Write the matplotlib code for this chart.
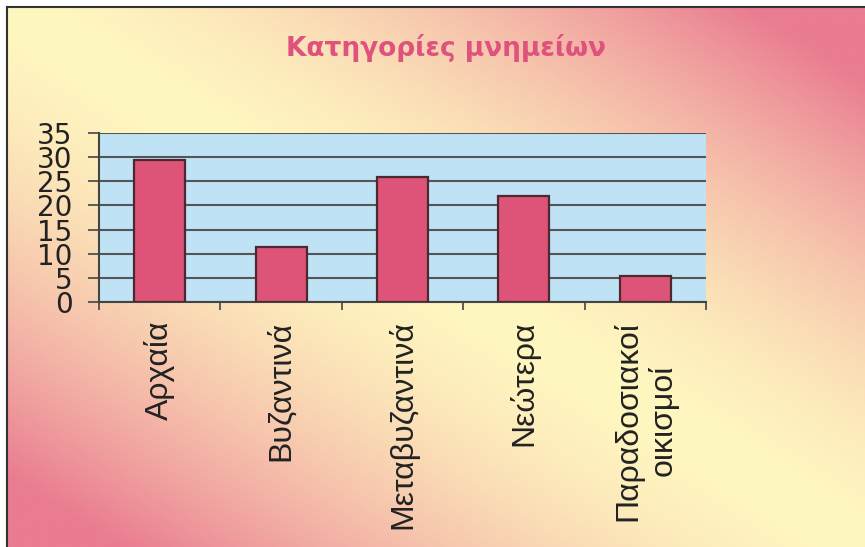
import matplotlib
matplotlib.use("Agg")
import matplotlib.pyplot as plt
import numpy as np

categories = ["Αρχαία", "Βυζαντινά", "Μεταβυζαντινά", "Νεώτερα", "Παραδοσιακοί\nοικισμοί"]
values = [29.4, 11.3, 25.8, 21.9, 5.4]
yticks = [0, 5, 10, 15, 20, 25, 30, 35]

W, H = 865, 547
fig = plt.figure(figsize=(W / 100, H / 100), dpi=100)
fig.patch.set_facecolor("white")

# gradient background (pink at top-right / bottom-left, yellow along the diagonal)
bg = fig.add_axes([8 / W, 0, 1 - 8 / W, 1 - 8 / H])
bg.set_axis_off()
xx, yy = np.meshgrid(np.linspace(0, 1, 400), np.linspace(0, 1, 300))
d = np.clip(np.abs(xx - yy) * 1.15, 0, 1) ** 1.6
yellow = np.array([255, 247, 192]) / 255
pink = np.array([234, 124, 145]) / 255
img = yellow[None, None, :] * (1 - d[..., None]) + pink[None, None, :] * d[..., None]
bg.imshow(img, aspect="auto", extent=[0, 1, 0, 1], origin="upper")
bg.set_xlim(0, 1)
bg.set_ylim(0, 1)
# dark frame lines at top and left
fig.add_artist(plt.Line2D([7 / W, 1], [1 - 7 / H, 1 - 7 / H], color="#333333", lw=1.5))
fig.add_artist(plt.Line2D([7 / W, 7 / W], [0, 1 - 7 / H], color="#333333", lw=1.5))

ax = fig.add_axes([99 / W, 1 - 302 / H, (706 - 99) / W, (302 - 133) / H])
ax.set_facecolor("#bfe3f5")
x = np.arange(len(categories))
ax.bar(x, values, width=0.42, color="#de5479", edgecolor="#4a2a30", linewidth=1.6, zorder=3)

ax.set_xlim(-0.5, len(categories) - 0.5)
ax.set_ylim(0, 35)
ax.set_yticks(yticks)
ax.set_yticklabels([str(v) for v in yticks], fontsize=20, family="DejaVu Sans", color="#222222")
ax.yaxis.grid(True, color="#555555", linewidth=1.5, zorder=1)
ax.set_axisbelow(True)

ax.set_xticks(np.arange(len(categories) + 1) - 0.5)
ax.set_xticklabels([])
ax.tick_params(axis="x", length=6, width=1.2, color="#444444", direction="out")
ax.tick_params(axis="y", length=8, width=1.2, color="#444444", direction="out", pad=11)
for i, c in enumerate(categories):
    ax.text(i, -0.11, c, transform=ax.get_xaxis_transform(), rotation=90,
            ha="center", va="top", fontsize=23, family="Liberation Sans",
            color="#222222", multialignment="center", linespacing=1.2)

for s in ["top", "right"]:
    ax.spines[s].set_visible(False)
for s in ["left", "bottom"]:
    ax.spines[s].set_color("#444444")
    ax.spines[s].set_linewidth(1.5)

fig.text(446 / W, 1 - 48 / H, "Κατηγορίες μνημείων", ha="center", va="center",
         fontsize=19, fontweight="bold", color="#e0527e", family="DejaVu Sans")

fig.savefig("out.png", dpi=100)
